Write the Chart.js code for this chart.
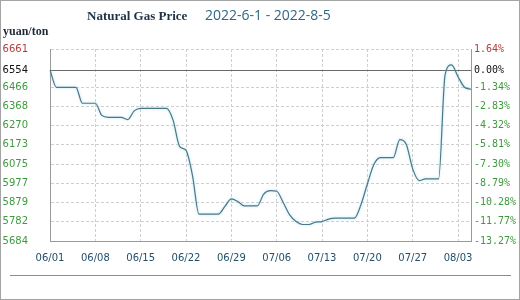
<!DOCTYPE html>
<html>
<head>
<meta charset="utf-8">
<script src="https://cdn.jsdelivr.net/npm/chart.js@4"></script>
<style>
  body { margin: 0; background: #fff; }
  #wrap { position: relative; width: 520px; height: 300px; }
  #frame { position: absolute; left: 0; top: 0; width: 520px; height: 300px; box-sizing: border-box; border: 1px solid #a4a4a4; pointer-events: none; }
  #title { position: absolute; left: 87px; top: 8px; font: bold 13px "Liberation Serif", serif; color: #1e3346; }
  #range { position: absolute; left: 205px; top: 5px; font: 14px "Open Sans", sans-serif; color: #2f6786; }
  #unit { position: absolute; left: 3px; top: 24px; font: bold 12px "Liberation Serif", serif; color: #1e2a36; }
  #rule { position: absolute; left: 10px; top: 275px; width: 501px; height: 1px; background: #8c8c8c; }
</style>
</head>
<body>
<div id="wrap">
  <canvas id="gasChart" width="520" height="300"></canvas>
  <div id="title">Natural Gas Price</div>
  <div id="range">2022-6-1 - 2022-8-5</div>
  <div id="unit">yuan/ton</div>
  <div id="rule"></div>
  <div id="frame"></div>
</div>
<script>
// daily dates 06/01 - 08/05
const dates = [];
for (let d = 1; d <= 30; d++) dates.push('06/' + String(d).padStart(2, '0'));
for (let d = 1; d <= 31; d++) dates.push('07/' + String(d).padStart(2, '0'));
for (let d = 1; d <= 5; d++) dates.push('08/' + String(d).padStart(2, '0'));

// price, yuan/ton
const prices = [
    6554, 6466, 6466, 6466, 6466, 6385, 6385, 6385, 6323, 6313,
    6313, 6313, 6302, 6346, 6359, 6359, 6359, 6359, 6359, 6299,
    6166, 6145, 6017, 5821, 5821, 5821, 5821, 5860, 5898, 5885,
    5863, 5863, 5863, 5923, 5940, 5937, 5880, 5817, 5783, 5768,
    5768, 5780, 5783, 5795, 5800, 5800, 5800, 5800, 5868, 5974,
    6073, 6108, 6108, 6108, 6200, 6176, 6051, 5991, 6000, 6000,
    6000, 6529, 6580, 6520, 6466, 6456
];

const basePrice = 6554;
const leftTicks = [5684, 5782, 5879, 5977, 6075, 6173, 6270, 6368, 6466, 6554, 6661];
const rightTicks = ['-13.27%', '-11.77%', '-10.28%', '-8.79%', '-7.30%', '-5.81%', '-4.32%', '-2.83%', '-1.34%', '0.00%', '1.64%'];

function tickColor(ctx) {
    const v = leftTicks[ctx.index];
    if (v > basePrice) return '#b23c3c';
    if (v === basePrice) return '#111111';
    return '#3f9a3f';
}

// solid line for the 0% base price
const baseLine = {
    id: 'baseLine',
    beforeDatasetsDraw(chart) {
        const { ctx, chartArea, scales } = chart;
        const y = Math.round(scales.y.getPixelForValue(basePrice)) + 0.5;
        ctx.save();
        ctx.strokeStyle = '#6a6a6a';
        ctx.lineWidth = 1;
        ctx.beginPath();
        ctx.moveTo(chartArea.left, y);
        ctx.lineTo(chartArea.right, y);
        ctx.stroke();
        ctx.restore();
    }
};

// light halo around the price line
const glow = {
    id: 'glow',
    beforeDatasetDraw(chart) {
        chart.ctx.save();
        chart.ctx.shadowColor = 'rgba(140, 205, 230, 0.7)';
        chart.ctx.shadowBlur = 3;
    },
    afterDatasetDraw(chart) {
        chart.ctx.restore();
    }
};

new Chart(document.getElementById('gasChart'), {
    type: 'line',
    data: {
        labels: dates,
        datasets: [{
            data: prices,
            borderColor: '#4a7888',
            borderWidth: 1.2,
            pointRadius: 0,
            cubicInterpolationMode: 'monotone',
            fill: false
        }]
    },
    options: {
        responsive: false,
        animation: false,
        events: [],
        layout: { padding: { top: 49, bottom: 25, left: 0, right: 0 } },
        plugins: { legend: { display: false }, tooltip: { enabled: false } },
        scales: {
            x: {
                offset: false,
                grid: { color: '#cfcfcf', drawTicks: false },
                border: { display: true, color: '#9a9a9a', dash: [3, 2] },
                ticks: {
                    autoSkip: false,
                    maxRotation: 0,
                    padding: 11,
                    color: '#24506a',
                    font: { family: 'DejaVu Sans', size: 10 },
                    callback: (v, i) => (i % 7 === 0 ? dates[i] : null)
                }
            },
            y: {
                position: 'left',
                min: leftTicks[0],
                max: leftTicks[leftTicks.length - 1],
                afterBuildTicks: (scale) => { scale.ticks = leftTicks.map(v => ({ value: v })); },
                afterFit: (scale) => { scale.width = 50; },
                grid: { color: '#cfcfcf', drawTicks: false },
                border: { display: true, color: '#9a9a9a', dash: [3, 2] },
                ticks: {
                    padding: 22,
                    color: tickColor,
                    font: { family: 'DejaVu Sans', size: 10 },
                    callback: (v) => String(v)
                }
            },
            y1: {
                position: 'right',
                min: leftTicks[0],
                max: leftTicks[leftTicks.length - 1],
                afterBuildTicks: (scale) => { scale.ticks = leftTicks.map(v => ({ value: v })); },
                afterFit: (scale) => { scale.width = 49; },
                grid: { drawOnChartArea: false, drawTicks: false },
                border: { display: true, color: '#9a9a9a' },
                ticks: {
                    padding: 3,
                    color: tickColor,
                    font: { family: 'DejaVu Sans Mono', size: 10 },
                    callback: (v, i) => rightTicks[i]
                }
            }
        }
    },
    plugins: [baseLine, glow]
});
</script>
</body>
</html>
